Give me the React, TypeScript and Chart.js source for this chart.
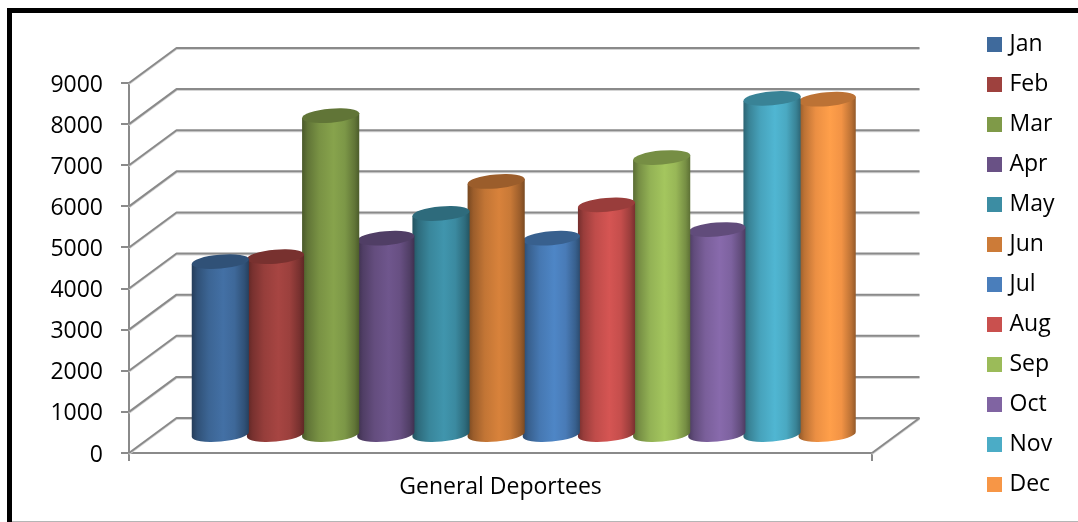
import React, { useEffect, useRef } from "react";
import { Chart, registerables } from "chart.js";

Chart.register(...registerables);

const categories = ["General Deportees"];
const months = ["Jan", "Feb", "Mar", "Apr", "May", "Jun", "Jul", "Aug", "Sep", "Oct", "Nov", "Dec"];
const deportees = [4230, 4350, 7780, 4800, 5400, 6180, 4800, 5610, 6760, 5010, 8200, 8180];
const seriesColors = [
  "#3f6a9c", "#9e413e", "#7f9a48", "#695185", "#3c8da3", "#cc7b38",
  "#4a7ebb", "#c9504e", "#9bbb59", "#8064a2", "#4bacc6", "#f79646",
];

const FONT = "'Open Sans', Lato, sans-serif";
const GRID = "#8a8a8a";
const GRID_SHADOW = "#d4d4d4";
// Perspective of the box: how far the back wall sits from the front plane.
const DEPTH_X = 47.5;
const DEPTH_Y = 35;
const TILT = (-5 * Math.PI) / 180;
const ELLIPSE_RY = 7;

function shade(hex: string, factor: number) {
  const n = parseInt(hex.slice(1), 16);
  const part = (s: number) => Math.min(255, Math.round(((n >> s) & 255) * factor));
  return `rgb(${part(16)},${part(8)},${part(0)})`;
}

const pageFrame = {
  id: "pageFrame",
  beforeDraw(chart: any) {
    const { ctx, width, height } = chart;
    ctx.save();
    ctx.fillStyle = "#ffffff";
    ctx.fillRect(0, 0, width, height);
    ctx.fillStyle = "#000000";
    ctx.fillRect(7, 8, width - 7, 5);
    ctx.fillRect(7, 8, 5, height - 8);
    ctx.fillStyle = "#b5b5b5";
    ctx.fillRect(12, height - 1, width - 12, 1);
    ctx.restore();
  },
};

// Side wall, floor edge and back-wall gridlines of the 3D box.
const box3d = {
  id: "box3d",
  beforeDatasetsDraw(chart: any) {
    const { ctx, chartArea, scales } = chart;
    const y = scales.y;
    const stroke = (color: string, width: number, shift: number) => {
      ctx.strokeStyle = color;
      ctx.lineWidth = width;
      for (const tick of y.ticks) {
        const py = y.getPixelForValue(tick.value);
        ctx.beginPath();
        ctx.moveTo(chartArea.left, py + shift);
        ctx.lineTo(chartArea.left + DEPTH_X, py - DEPTH_Y + shift);
        ctx.lineTo(chartArea.right + DEPTH_X, py - DEPTH_Y + shift);
        ctx.stroke();
      }
      const base = y.getPixelForValue(0);
      ctx.beginPath();
      ctx.moveTo(chartArea.right, base + shift);
      ctx.lineTo(chartArea.right + DEPTH_X, base - DEPTH_Y + shift);
      ctx.stroke();
    };
    ctx.save();
    ctx.lineJoin = "round";
    stroke(GRID_SHADOW, 2, 1);
    stroke(GRID, 2, 0);
    ctx.restore();
  },
};

// Replaces each flat bar with a shaded cylinder standing mid-way in the box.
const cylinders = {
  id: "cylinders",
  beforeDatasetDraw(chart: any, args: any) {
    const { ctx } = chart;
    const color = seriesColors[args.index];
    for (const el of args.meta.data) {
      const { x, y, base, width } = el.getProps(["x", "y", "base", "width"], true);
      const cx = x + DEPTH_X / 2 - 0.5;
      const top = y - DEPTH_Y / 2;
      const bottom = base - DEPTH_Y / 2;
      const rx = (width / 2) * 1.04;
      const dx = rx * Math.cos(TILT);
      const dy = rx * Math.sin(TILT);

      const gradient = ctx.createLinearGradient(cx - dx, 0, cx + dx, 0);
      gradient.addColorStop(0, shade(color, 0.58));
      gradient.addColorStop(0.1, shade(color, 0.76));
      gradient.addColorStop(0.3, shade(color, 0.95));
      gradient.addColorStop(0.55, shade(color, 1.06));
      gradient.addColorStop(0.75, shade(color, 0.98));
      gradient.addColorStop(0.92, shade(color, 0.76));
      gradient.addColorStop(1, shade(color, 0.6));

      ctx.save();
      ctx.beginPath();
      ctx.moveTo(cx - dx, top - dy);
      ctx.lineTo(cx - dx, bottom - dy);
      ctx.ellipse(cx, bottom, rx, ELLIPSE_RY, TILT, Math.PI, 0, true);
      ctx.lineTo(cx + dx, top + dy);
      ctx.closePath();
      ctx.fillStyle = gradient;
      ctx.fill();

      ctx.beginPath();
      ctx.ellipse(cx, top, rx, ELLIPSE_RY, TILT, 0, Math.PI * 2);
      ctx.fillStyle = shade(color, 0.76);
      ctx.fill();
      ctx.restore();
    }
    return false;
  },
};

// Keeps the plot's right edge fixed and sets the legend column beside the box.
const legendPlacement = {
  id: "legendPlacement",
  beforeLayout(chart: any) {
    const legend = chart.legend;
    if (legend && !legend.__wrapped) {
      const fit = legend.fit;
      legend.fit = function () {
        fit.call(this);
        this.width = 206;
      };
      legend.__wrapped = true;
    }
  },
  afterLayout(chart: any) {
    chart.legend.left = 974;
    chart.legend.top = 16;
  },
};

export default function App() {
  const ref = useRef<HTMLCanvasElement>(null);

  useEffect(() => {
    const chart = new Chart(ref.current!, {
      type: "bar",
      data: {
        labels: categories,
        datasets: months.map((label, i) => ({
          label,
          data: [deportees[i]],
          backgroundColor: seriesColors[i],
          borderColor: seriesColors[i],
          borderWidth: 8,
        })),
      },
      options: {
        responsive: false,
        animation: false,
        devicePixelRatio: 1,
        layout: { padding: 0 },
        datasets: { bar: { categoryPercentage: 0.891, barPercentage: 1 } },
        scales: {
          x: {
            grid: { drawOnChartArea: false, color: GRID, lineWidth: 2, tickLength: 8 },
            border: { color: GRID, width: 2 },
            ticks: { color: "#000", font: { family: FONT, size: 23 }, padding: 13, maxRotation: 0 },
            afterFit(scale: any) {
              scale.height = 69;
            },
          },
          y: {
            min: 0,
            max: 9000,
            grid: { drawOnChartArea: false, color: GRID, lineWidth: 2, tickLength: 8 },
            border: { color: GRID, width: 2 },
            ticks: {
              stepSize: 1000,
              autoSkip: false,
              color: "#000",
              padding: 18,
              labelOffset: 2,
              font: { family: FONT, size: 23 },
              callback: (value: any) => String(value),
            },
            afterFit(scale: any) {
              scale.width = 129;
            },
          },
        },
        plugins: {
          title: {
            display: true,
            text: " ",
            font: { size: 10, lineHeight: 1 },
            padding: { top: 73, bottom: 0 },
          },
          tooltip: { enabled: false },
          legend: {
            position: "right",
            align: "start",
            labels: {
              boxWidth: 7,
              boxHeight: 7,
              padding: 17,
              color: "#000",
              font: { family: FONT, size: 23 },
            },
          },
        },
      },
      plugins: [pageFrame, box3d, cylinders, legendPlacement],
    } as any);
    return () => chart.destroy();
  }, []);

  return (
    <canvas
      ref={ref}
      width={1078}
      height={522}
      style={{ position: "fixed", left: 0, top: 0, display: "block" }}
    />
  );
}
